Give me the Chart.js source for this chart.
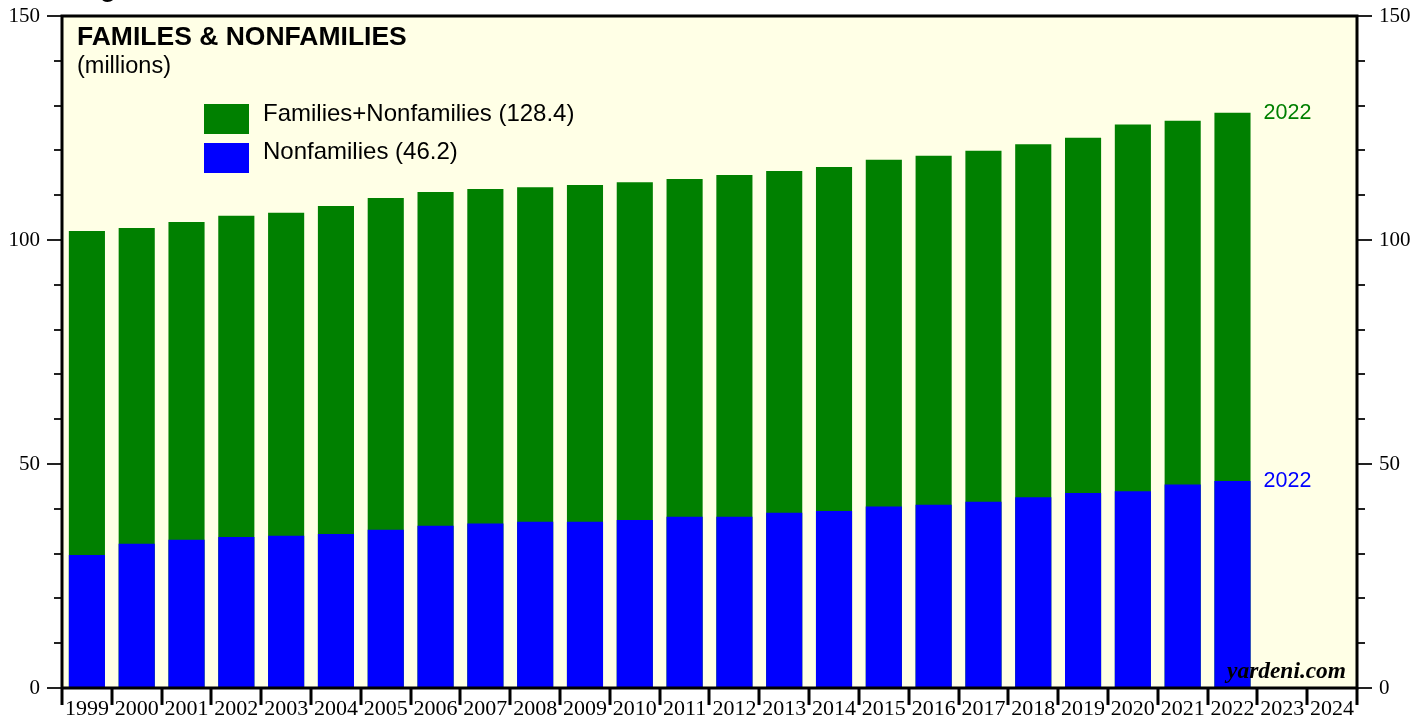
<!DOCTYPE html>
<html>
<head>
<meta charset="utf-8">
<title>Familes & Nonfamilies</title>
<script src="https://cdn.jsdelivr.net/npm/chart.js@4/dist/chart.umd.min.js"></script>
<style>
  body { margin: 0; background: #ffffff; }
  #wrap { width: 1427px; height: 719px; }
</style>
</head>
<body>
<div id="wrap"><canvas id="myChart" width="1427" height="719"></canvas></div>
<script>
var years = ['1999','2000','2001','2002','2003','2004','2005','2006','2007','2008','2009','2010',
             '2011','2012','2013','2014','2015','2016','2017','2018','2019','2020','2021','2022','2023','2024']

// households, millions
var total_households = [102.0, 102.7, 104.0, 105.4, 106.1, 107.6, 109.4, 110.7, 111.4, 111.8, 112.3, 112.9,
                        113.6, 114.5, 115.4, 116.3, 117.9, 118.8, 119.9, 121.4, 122.8, 125.8, 126.6, 128.4]
var nonfamilies = [29.7, 32.2, 33.1, 33.7, 34.0, 34.4, 35.3, 36.2, 36.7, 37.1, 37.1, 37.5,
                   38.2, 38.2, 39.1, 39.5, 40.5, 40.9, 41.6, 42.6, 43.5, 43.9, 45.4, 46.2]

var y_labels = [0, 50, 100, 150]

var green = '#008000'
var blue = '#0000ff'
var paper = '#ffffe6'
var bar_pct = 0.725

var sans = 'Arial, "Liberation Sans", sans-serif'
var serif = '"Times New Roman", "Liberation Serif", serif'

var decor = {
  id: 'decor',
  beforeDraw: function(chart) {
    var ctx = chart.ctx
    var a = chart.chartArea
    ctx.save()
    ctx.fillStyle = '#ffffff'
    ctx.fillRect(0, 0, chart.width, chart.height)
    ctx.fillStyle = paper
    ctx.fillRect(a.left, a.top, a.right - a.left, a.bottom - a.top)
    ctx.restore()
  },
  afterDatasetsDraw: function(chart) {
    var ctx = chart.ctx
    var a = chart.chartArea
    var xs = chart.scales.x
    var ys = chart.scales.y
    ctx.save()

    // y ticks, both sides
    ctx.strokeStyle = '#222222'
    ctx.lineWidth = 2
    for (var v = 0; v <= 150; v += 10) {
      var py = Math.round(ys.getPixelForValue(v))
      var len = (v % 50 == 0) ? 15 : 8
      ctx.beginPath()
      ctx.moveTo(a.left - len, py)
      ctx.lineTo(a.left, py)
      ctx.moveTo(a.right, py)
      ctx.lineTo(a.right + len, py)
      ctx.stroke()
    }

    // x ticks on category boundaries
    var step = xs.getPixelForTick(1) - xs.getPixelForTick(0)
    ctx.strokeStyle = '#000000'
    ctx.lineWidth = 3
    for (var i = 0; i <= years.length; i++) {
      var px = Math.round(xs.getPixelForTick(0) - step / 2 + i * step)
      ctx.beginPath()
      ctx.moveTo(px, a.bottom)
      ctx.lineTo(px, a.bottom + 17)
      ctx.stroke()
    }

    // frame
    ctx.lineWidth = 3
    ctx.beginPath()
    ctx.moveTo(a.left, a.bottom)
    ctx.lineTo(a.left, a.top)
    ctx.lineTo(a.right, a.top)
    ctx.lineTo(a.right, a.bottom)
    ctx.lineTo(a.left, a.bottom)
    ctx.stroke()

    // titles
    ctx.fillStyle = '#000000'
    ctx.textBaseline = 'alphabetic'
    ctx.font = 'bold 26px ' + sans
    ctx.fillText('Figure 1.', 77, -3)
    ctx.font = 'bold 26.5px ' + sans
    ctx.fillText('FAMILES & NONFAMILIES', 77, 45)
    ctx.font = '23.5px ' + sans
    ctx.fillText('(millions)', 77, 73)

    // legend
    ctx.fillStyle = green
    ctx.fillRect(204, 104, 45, 30)
    ctx.fillStyle = blue
    ctx.fillRect(204, 143, 45, 30)
    ctx.fillStyle = '#000000'
    ctx.font = '24px ' + sans
    ctx.fillText('Families+Nonfamilies (' + total_households[total_households.length - 1].toFixed(1) + ')', 263, 121)
    ctx.fillText('Nonfamilies (' + nonfamilies[nonfamilies.length - 1].toFixed(1) + ')', 263, 159)

    // end labels
    var last = total_households.length - 1
    var lx = xs.getPixelForTick(last) + step * bar_pct / 2 + 13
    ctx.font = '21.5px ' + sans
    ctx.textBaseline = 'middle'
    ctx.fillStyle = green
    ctx.fillText(years[last], lx, ys.getPixelForValue(total_households[last]))
    ctx.fillStyle = blue
    ctx.fillText(years[last], lx, ys.getPixelForValue(nonfamilies[last]))

    // source
    ctx.textBaseline = 'alphabetic'
    ctx.textAlign = 'right'
    ctx.fillStyle = '#000000'
    ctx.font = 'italic bold 23.4px ' + serif
    ctx.fillText('yardeni.com', a.right - 11, a.bottom - 10)

    ctx.restore()
  }
}

var yTicks = function(value) {
  return y_labels.indexOf(value) >= 0 ? value : ''
}

var noPad = function(scale) {
  scale.paddingTop = 0
  scale.paddingBottom = 0
  scale.paddingLeft = 0
  scale.paddingRight = 0
}

var ctx = document.getElementById('myChart').getContext('2d')
var myChart = new Chart(ctx, {
  type: 'bar',
  data: {
    labels: years,
    datasets: [
      {
        label: 'Nonfamilies',
        data: nonfamilies,
        backgroundColor: blue,
        grouped: false,
        order: 0
      },
      {
        label: 'Families+Nonfamilies',
        data: total_households,
        backgroundColor: green,
        grouped: false,
        order: 1
      }
    ]
  },
  options: {
    responsive: false,
    animation: false,
    events: [],
    layout: { padding: { top: 16, left: 0, right: 0, bottom: 0 } },
    datasets: {
      bar: { barPercentage: bar_pct, categoryPercentage: 1, borderWidth: 0 }
    },
    plugins: {
      legend: { display: false },
      tooltip: { enabled: false }
    },
    scales: {
      x: {
        offset: true,
        grid: { display: false, drawTicks: false },
        border: { display: false },
        ticks: {
          autoSkip: false,
          maxRotation: 0,
          color: '#000000',
          padding: 8,
          font: { family: serif, size: 22 }
        },
        afterFit: function(scale) { noPad(scale); scale.height = 31 }
      },
      y: {
        min: 0,
        max: 150,
        grid: { display: false, drawTicks: false },
        border: { display: false },
        ticks: {
          stepSize: 50,
          color: '#000000',
          padding: 22,
          font: { family: serif, size: 21 },
          callback: yTicks
        },
        afterFit: function(scale) { noPad(scale); scale.width = 62 }
      },
      y2: {
        position: 'right',
        min: 0,
        max: 150,
        grid: { display: false, drawTicks: false },
        border: { display: false },
        ticks: {
          stepSize: 50,
          color: '#000000',
          padding: 22,
          font: { family: serif, size: 21 },
          callback: yTicks
        },
        afterFit: function(scale) { noPad(scale); scale.width = 70 }
      }
    }
  },
  plugins: [decor]
})
</script>
</body>
</html>
